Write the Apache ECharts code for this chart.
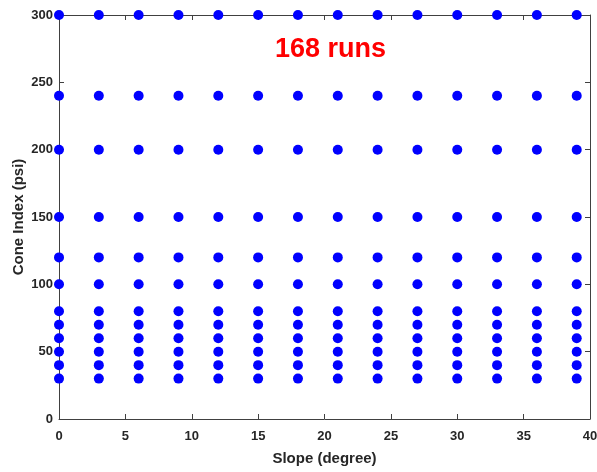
<!DOCTYPE html>
<html>
<head>
<meta charset="utf-8">
<script src="https://cdn.jsdelivr.net/npm/echarts@6/dist/echarts.min.js"></script>
<style>
  html, body { margin: 0; padding: 0; background: #fff; }
  #chart { width: 597px; height: 472px; }
</style>
</head>
<body>
<div id="chart"></div>
<script>
// slope values (degree) and cone index levels (psi)
const slopes = [0, 3, 6, 9, 12, 15, 18, 21, 24, 27, 30, 33, 36, 39];
const coneIndex = [30, 40, 50, 60, 70, 80, 100, 120, 150, 200, 240, 300];
const xTicks = [0, 5, 10, 15, 20, 25, 30, 35, 40];
const yTicks = [0, 50, 100, 150, 200, 250, 300];

let points = [];
for (let i = 0; i < slopes.length; i++) {
    for (let j = 0; j < coneIndex.length; j++) {
        points.push([slopes[i], coneIndex[j]]);
    }
}

const chart = echarts.init(document.getElementById('chart'), null, { renderer: 'canvas' });
const fontFam = 'Liberation Sans, Arial, sans-serif';
const axisColor = '#404040';

const baseAxis = {
    axisLine: { show: true, onZero: false, lineStyle: { color: axisColor, width: 1 } },
    axisTick: { show: true, inside: true, length: 5, lineStyle: { color: axisColor } },
    splitLine: { show: false }
};

const option = {
    backgroundColor: '#ffffff',
    animation: false,
    grid: { left: 59, top: 15, right: 7, bottom: 53, outerBoundsMode: 'none' },
    xAxis: [{
        ...baseAxis,
        type: 'value',
        min: 0, max: 40, interval: 5,
        name: 'Slope (degree)',
        nameLocation: 'middle',
        nameGap: 32,
        nameMoveOverlap: false,
        nameTextStyle: { fontFamily: fontFam, fontWeight: 'bold', fontSize: 15, color: '#262626' },
        axisLabel: { fontFamily: fontFam, fontWeight: 'bold', fontSize: 13, color: '#262626', margin: 11 }
    }, {
        ...baseAxis,
        type: 'value',
        position: 'top',
        min: 0, max: 40, interval: 5,
        axisLabel: { show: false }
    }],
    yAxis: [{
        ...baseAxis,
        type: 'value',
        min: 0, max: 300, interval: 50,
        name: 'Cone Index (psi)',
        nameLocation: 'middle',
        nameGap: 33,
        nameMoveOverlap: false,
        nameTextStyle: { fontFamily: fontFam, fontWeight: 'bold', fontSize: 15, color: '#262626' },
        axisLabel: { fontFamily: fontFam, fontWeight: 'bold', fontSize: 13, color: '#262626', margin: 6 }
    }, {
        ...baseAxis,
        type: 'value',
        position: 'right',
        min: 0, max: 300, interval: 50,
        axisLabel: { show: false }
    }],
    graphic: [{
        type: 'text',
        left: 275,
        top: 36,
        style: {
            text: '168 runs',
            fill: '#ff0000',
            font: 'bold 27px ' + fontFam
        }
    }],
    series: [{
        type: 'scatter',
        data: points,
        symbol: 'circle',
        symbolSize: 10,
        clip: false,
        itemStyle: { color: '#0000ff', opacity: 1 }
    }]
};

chart.setOption(option);
</script>
</body>
</html>
